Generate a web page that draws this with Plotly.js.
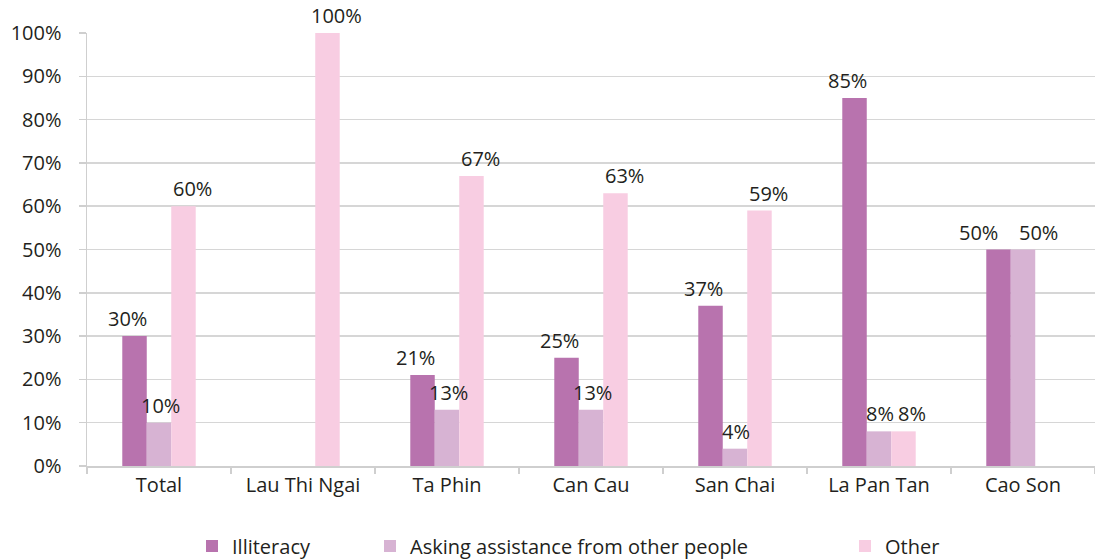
<!DOCTYPE html>
<html>
<head>
<meta charset="utf-8">
<script src="https://cdn.plot.ly/plotly-3.0.1.min.js"></script>
<style>html,body{margin:0;padding:0;background:#fff}#chart{width:1095px;height:559px}</style>
</head>
<body>
<div id="chart"></div>
<script>
const categories = ["Total", "Lau Thi Ngai", "Ta Phin", "Can Cau", "San Chai", "La Pan Tan", "Cao Son"];
const illiteracy = [30, null, 21, 25, 37, 85, 50];
const askingAssistance = [10, null, 13, 13, 4, 8, 50];
const other = [60, 100, 67, 63, 59, 8, null];
const seriesNames = ["Illiteracy", "Asking assistance from other people", "Other"];
const yTicks = [0, 10, 20, 30, 40, 50, 60, 70, 80, 90, 100];

// styling
const colors = ["#b873ae", "#d7b3d3", "#f8cde2"];
const txtColor = "#231f20";
const fontFam = "'Open Sans', sans-serif";
const bargap = 0.49;
// small horizontal nudges (px) of value labels per series, as in the reference
const labelNudge = [-7, 1, 9];
const labelNudgeOverride = {"Cao Son": [-20, 15, 0]};

const series = [illiteracy, askingAssistance, other];
const legendIds = ["legend", "legend2", "legend3"];

const data = series.map((vals, s) => ({
  type: "bar",
  x: categories,
  y: vals,
  name: seriesNames[s],
  legend: legendIds[s],
  marker: {color: colors[s], line: {width: 0}},
  hoverinfo: "x+y+name"
}));

// value labels drawn as annotations anchored at data coordinates of each bar
const barW = (1 - bargap) / series.length;
const annotations = [];
series.forEach((vals, s) => {
  vals.forEach((v, i) => {
    if (v === null) return;
    const cat = categories[i];
    const nudge = labelNudgeOverride[cat] ? labelNudgeOverride[cat][s] : labelNudge[s];
    annotations.push({
      xref: "x", yref: "y",
      x: i + (s - (series.length - 1) / 2) * barW,
      y: v,
      text: v + "%",
      showarrow: false,
      xanchor: "center", yanchor: "bottom",
      xshift: nudge, yshift: 2,
      font: {family: fontFam, size: 20, color: txtColor}
    });
  });
});

const legendBase = {
  orientation: "h",
  xref: "container", yref: "container",
  xanchor: "left", yanchor: "middle",
  y: 13 / 559,
  font: {family: fontFam, size: 20, color: txtColor},
  bgcolor: "rgba(0,0,0,0)",
  itemwidth: 30,
  itemclick: false, itemdoubleclick: false
};

const layout = {
  width: 1095, height: 559,
  margin: {l: 87, r: 0, t: 33, b: 93, pad: 0},
  paper_bgcolor: "#ffffff",
  plot_bgcolor: "#ffffff",
  font: {family: fontFam, size: 20, color: txtColor},
  barmode: "group",
  bargap: bargap,
  bargroupgap: 0,
  showlegend: true,
  legend: Object.assign({}, legendBase, {x: 192 / 1095}),
  legend2: Object.assign({}, legendBase, {x: 370 / 1095}),
  legend3: Object.assign({}, legendBase, {x: 845 / 1095}),
  annotations: annotations,
  xaxis: {
    type: "category",
    showline: true, linecolor: "#cfcfcf", linewidth: 1.5,
    ticks: "outside", tickson: "boundaries", ticklen: 6, tickcolor: "#cfcfcf", tickwidth: 1.5,
    showgrid: false,
    tickfont: {family: fontFam, size: 20, color: txtColor},
    fixedrange: true
  },
  yaxis: {
    range: [0, 100],
    tickvals: yTicks,
    ticktext: yTicks.map(v => v + "%"),
    showline: true, linecolor: "#cfcfcf", linewidth: 1.5,
    ticks: "outside", ticklen: 7, tickcolor: "#cfcfcf", tickwidth: 1.5,
    ticklabelstandoff: 13,
    showgrid: true, gridcolor: "#d6d6d6", gridwidth: 1.5,
    zeroline: false,
    tickfont: {family: fontFam, size: 20, color: txtColor},
    fixedrange: true
  }
};

Plotly.newPlot("chart", data, layout, {displayModeBar: false, staticPlot: true});
</script>
</body>
</html>
